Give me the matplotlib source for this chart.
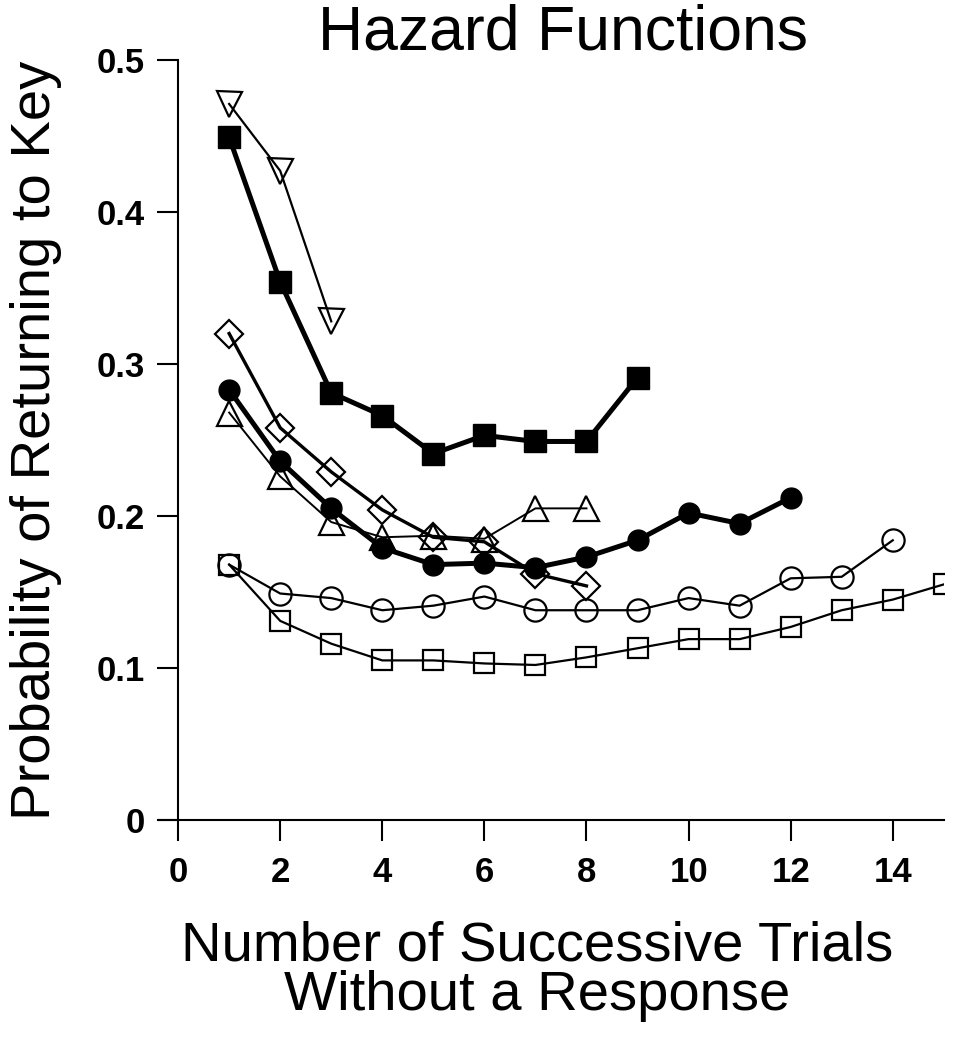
import matplotlib
matplotlib.use("Agg")
import matplotlib.pyplot as plt

plt.rcParams['font.family'] = ['Liberation Sans', 'DejaVu Sans']

# hazard values, one list per series
x_tri_down = [1, 2, 3]
y_tri_down = [0.471, 0.427, 0.328]

x_sq_fill = [1, 2, 3, 4, 5, 6, 7, 8, 9]
y_sq_fill = [0.449, 0.354, 0.281, 0.266, 0.241, 0.253, 0.249, 0.249, 0.291]

x_diamond = [1, 2, 3, 4, 5, 6, 7, 8]
y_diamond = [0.320, 0.258, 0.229, 0.204, 0.186, 0.183, 0.162, 0.154]

x_circ_fill = [1, 2, 3, 4, 5, 6, 7, 8, 9, 10, 11, 12]
y_circ_fill = [0.283, 0.236, 0.205, 0.179, 0.168, 0.169, 0.166, 0.173, 0.184, 0.202, 0.195, 0.212]

x_tri_up = [1, 2, 3, 4, 5, 6, 7, 8]
y_tri_up = [0.268, 0.226, 0.196, 0.186, 0.187, 0.185, 0.205, 0.205]

x_circ_open = [1, 2, 3, 4, 5, 6, 7, 8, 9, 10, 11, 12, 13, 14]
y_circ_open = [0.168, 0.149, 0.146, 0.138, 0.141, 0.147, 0.138, 0.138, 0.138, 0.146, 0.141, 0.159, 0.160, 0.184]

x_sq_open = [1, 2, 3, 4, 5, 6, 7, 8, 9, 10, 11, 12, 13, 14, 15]
y_sq_open = [0.168, 0.131, 0.116, 0.105, 0.105, 0.103, 0.102, 0.107, 0.113, 0.119, 0.119, 0.127, 0.138, 0.145, 0.155]

x_ticks = [0, 2, 4, 6, 8, 10, 12, 14]
y_ticks = [0, 0.1, 0.2, 0.3, 0.4, 0.5]
y_tick_labels = ['0', '0.1', '0.2', '0.3', '0.4', '0.5']

fig = plt.figure(figsize=(9.68, 10.5), dpi=100)
ax = fig.add_axes([0.184, 0.219, 0.791, 0.724])

ax.plot(x_sq_open, y_sq_open, color='black', lw=1.6, marker='s', ms=15,
        mfc='none', mec='black', mew=1.6)
ax.plot(x_circ_open, y_circ_open, color='black', lw=1.6, marker='o', ms=16,
        mfc='none', mec='black', mew=1.6)
ax.plot(x_tri_up, y_tri_up, color='black', lw=1.4, marker='^', ms=18,
        mfc='none', mec='black', mew=1.6)
ax.plot(x_circ_fill, y_circ_fill, color='black', lw=3.6, marker='o', ms=15,
        mfc='black', mec='black')
ax.plot(x_diamond, y_diamond, color='black', lw=2.4, marker='D', ms=14,
        mfc='none', mec='black', mew=1.6)
ax.plot(x_sq_fill, y_sq_fill, color='black', lw=3.6, marker='s', ms=16,
        mfc='black', mec='black')
ax.plot(x_tri_down, y_tri_down, color='black', lw=1.6, marker='v', ms=18,
        mfc='none', mec='black', mew=1.6)

ax.set_xlim(0, 15)
ax.set_ylim(0, 0.5)
ax.spines['top'].set_visible(False)
ax.spines['right'].set_visible(False)
ax.spines['left'].set_linewidth(1.5)
ax.spines['bottom'].set_linewidth(1.5)
ax.spines['bottom'].set_bounds(-0.4, 15)
ax.spines['left'].set_bounds(0, 0.5)

ax.set_xticks(x_ticks)
ax.set_xticklabels([str(t) for t in x_ticks])
ax.set_yticks(y_ticks)
ax.set_yticklabels(y_tick_labels)
ax.tick_params(axis='both', direction='out', length=15, width=1.5,
               labelsize=25)
ax.tick_params(axis='x', pad=11)
ax.tick_params(axis='y', pad=9)
for lab in ax.get_xticklabels() + ax.get_yticklabels():
    lab.set_fontweight('bold')

fig.text(0.555, 0.075, 'Number of Successive Trials\nWithout a Response',
         fontsize=40.5, ha='center', va='center', linespacing=0.95)
fig.text(0.037, 0.581, 'Probability of Returning to Key', fontsize=40.5,
         rotation=90, ha='center', va='center')
fig.text(0.582, 0.969, 'Hazard Functions', fontsize=45, ha='center', va='center')

fig.savefig('out.png', dpi=100)
